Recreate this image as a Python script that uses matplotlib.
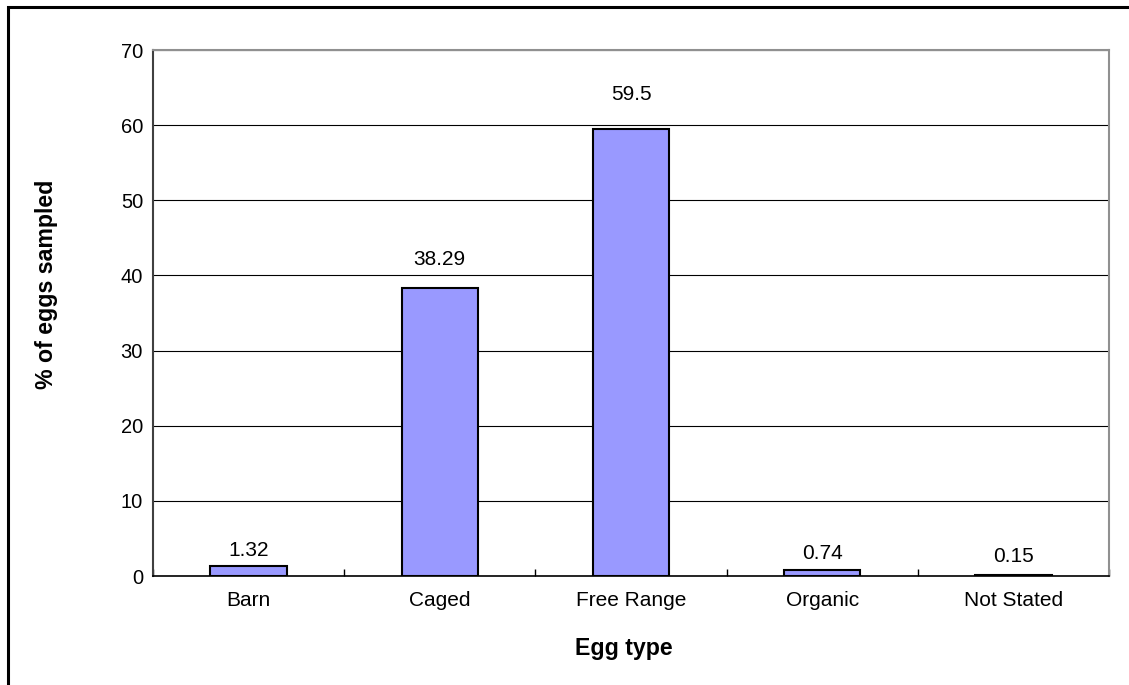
import matplotlib
matplotlib.use("Agg")
import matplotlib.pyplot as plt
from matplotlib.patches import Rectangle
import numpy as np

categories = ["Barn", "Caged", "Free Range", "Organic", "Not Stated"]
values = [1.32, 38.29, 59.5, 0.74, 0.15]
value_labels = ["1.32", "38.29", "59.5", "0.74", "0.15"]
yticks = [0, 10, 20, 30, 40, 50, 60, 70]

plt.rcParams['font.family'] = ['Liberation Sans', 'DejaVu Sans']

W, H = 1129, 685
fig = plt.figure(figsize=(W / 100, H / 100), dpi=100)
ax = fig.add_axes([153 / W, 1 - 576 / H, (1109 - 153) / W, (576 - 50) / H])

# outer chart border (only top and left visible)
fig.patches.append(Rectangle((7.5 / W, -0.1), 1.2, 1 - 6.5 / H + 0.1, transform=fig.transFigure,
                             fill=False, edgecolor='black', linewidth=2.2, zorder=0))

x = np.arange(len(categories))
bars = ax.bar(x, values, width=0.4, color='#9999FF', edgecolor='black', linewidth=1.5, zorder=3)

offsets_px = [10, 23, 29, 11, 13]
for xi, v, lab, off in zip(x, values, value_labels, offsets_px):
    ax.annotate(lab, (xi, v), xytext=(0, off * 0.72), textcoords='offset points',
                ha='center', va='baseline', fontsize=15)

ax.set_xlim(-0.5, len(categories) - 0.5)
ax.set_ylim(0, 70)
ax.set_yticks(yticks)
ax.yaxis.grid(True, color='black', linewidth=0.8, zorder=0)
ax.set_axisbelow(True)

ax.set_xticks(x)
ax.set_xticklabels(categories, fontsize=15)
ax.tick_params(axis='x', length=0, pad=11)
ax.set_xticks(np.arange(len(categories) + 1) - 0.5, minor=True)
ax.tick_params(axis='x', which='minor', direction='in', length=5, width=1, color='black')
ax.tick_params(axis='y', labelsize=14.5, length=0, pad=7.2)

for s in ['top', 'right']:
    ax.spines[s].set_color('#909090')
    ax.spines[s].set_linewidth(1.5)
ax.spines['left'].set_color('#404040')
ax.spines['left'].set_linewidth(1.5)
ax.spines['bottom'].set_color('black')
ax.spines['bottom'].set_linewidth(1.2)

fig.text(624 / W, 1 - 648 / H, "Egg type", fontsize=16.7, fontweight='bold',
         ha='center', va='center')
fig.text(47 / W, 1 - 284 / H, "% of eggs sampled", fontsize=16.7, fontweight='bold',
         ha='center', va='center', rotation=90)

fig.savefig("out.png", dpi=100)
